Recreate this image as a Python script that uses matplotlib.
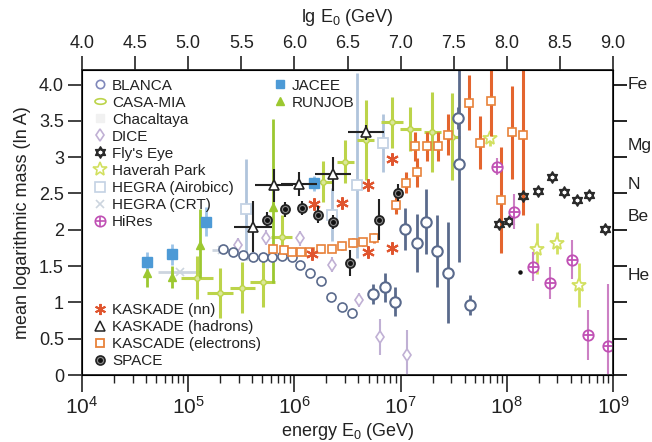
import numpy as np
import matplotlib
matplotlib.use('Agg')
import matplotlib.pyplot as plt
from matplotlib.lines import Line2D
from matplotlib.path import Path
from matplotlib.transforms import Affine2D
from matplotlib.ticker import NullFormatter, FixedLocator
from matplotlib.legend_handler import HandlerTuple

FONT = 'Liberation Sans'
plt.rcParams['font.family'] = [FONT, 'DejaVu Sans']
plt.rcParams['mathtext.fontset'] = 'custom'
plt.rcParams['mathtext.rm'] = FONT
plt.rcParams['mathtext.it'] = FONT + ':italic'
plt.rcParams['mathtext.bf'] = FONT + ':bold'

# ---------------- data (lg E in GeV, ln A) ----------------
blanca_lg = [5.33, 5.42, 5.52, 5.61, 5.70, 5.79, 5.88, 5.98, 6.05, 6.15, 6.25, 6.34, 6.45, 6.54]
blanca_lnA = [1.74, 1.69, 1.65, 1.62, 1.62, 1.63, 1.64, 1.63, 1.52, 1.41, 1.29, 1.08, 0.93, 0.86]

blanca2_lg = [6.74, 6.85, 6.95, 7.04, 7.15, 7.24, 7.34, 7.45, 7.65, 7.54, 7.55]
blanca2_lnA = [1.12, 1.21, 1.01, 2.01, 1.82, 2.11, 1.71, 1.41, 0.96, 3.54, 2.90]
blanca2_err = [0.14, 0.20, 0.20, 0.29, 0.40, 0.45, 0.50, 0.70, 0.14, 0.15, 1.35]

casa_lg = [5.08, 5.30, 5.51, 5.70, 5.88, 6.27, 6.48, 6.67, 6.92, 7.09, 7.30, 7.48]
casa_lnA = [1.34, 1.13, 1.20, 1.28, 1.90, 2.66, 2.94, 3.24, 3.48, 3.39, 3.35, 3.28]
casa_err = [0.30, 0.35, 0.35, 0.35, 0.30, 0.28, 0.30, 0.55, 0.35, 0.30, 0.55, 0.60]
casa_xerr = [0.15, 0.12, 0.12, 0.12, 0.10, 0.08, 0.08, 0.08, 0.10, 0.10, 0.08, 0.08]

dice_lg = [5.47, 5.73, 6.05, 6.35, 6.61, 6.81, 7.06]
dice_lnA = [1.79, 1.89, 1.88, 1.52, 1.03, 0.52, 0.28]
dice_err_lo = [0.10, 0.10, 0.10, 0.10, 0.10, 0.25, 0.28]
dice_err_hi = [0.10, 0.10, 0.10, 0.10, 0.10, 0.25, 0.34]

flys_lg = [7.93, 8.02, 8.15, 8.29, 8.43, 8.54, 8.66, 8.77, 8.92]
flys_lnA = [2.08, 2.12, 2.46, 2.54, 2.72, 2.52, 2.41, 2.48, 2.01]

haverah_lg = [7.84, 8.28, 8.47, 8.68]
haverah_lnA = [3.26, 1.74, 1.82, 1.24]
haverah_err = [0.10, 0.35, 0.15, 0.30]

hegra_air_lg = [5.54, 6.35, 6.59, 6.83]
hegra_air_lnA = [2.28, 2.21, 2.61, 3.20]
hegra_air_lo = [0.70, 0.37, 1.00, 0.40]
hegra_air_hi = [0.70, 0.37, 1.55, 0.40]

hegra_crt_lg = [4.92, 5.32]
hegra_crt_lnA = [1.42, 1.72]
hegra_crt_xerr = [0.20, 0.10]

hires_lg = [7.91, 8.07, 8.25, 8.41, 8.61, 8.76, 8.95]
hires_lnA = [2.87, 2.25, 1.49, 1.27, 1.59, 0.55, 0.40]
hires_lo = [0.12, 0.24, 0.20, 0.22, 0.27, 0.35, 0.40]
hires_hi = [0.12, 0.24, 0.20, 0.22, 0.27, 0.35, 0.85]

jacee_lg = [4.61, 4.85, 5.17, 6.18]
jacee_lnA = [1.55, 1.66, 2.11, 2.64]
jacee_err = [0.15, 0.15, 0.20, 0.10]

runjob_lg = [4.61, 4.85, 5.11, 5.80]
runjob_lnA = [1.41, 1.35, 1.79, 2.32]
runjob_lo = [0.20, 0.15, 0.45, 1.05]
runjob_hi = [0.20, 0.15, 0.50, 1.20]

knn_lg = [6.18, 6.45, 6.69, 6.92, 6.17, 6.69, 6.92]
knn_lnA = [2.36, 2.37, 2.62, 2.97, 1.66, 1.70, 1.75]

khad_lg = [5.61, 5.81, 6.04, 6.36, 6.67]
khad_lnA = [2.04, 2.61, 2.63, 2.77, 3.34]
khad_err = [0.35, 0.23, 0.17, 0.23, 0.10]
khad_xerr = [0.18, 0.18, 0.17, 0.17, 0.17]

kel_lg = [5.80, 5.90, 5.98, 6.06, 6.15, 6.25, 6.35, 6.45, 6.55, 6.65, 6.75,
          6.96, 7.05, 7.15, 7.14, 7.25, 7.35, 7.45, 7.64, 7.75, 7.85, 7.95, 8.05, 8.15]
kel_lnA = [1.73, 1.72, 1.70, 1.70, 1.70, 1.73, 1.74, 1.77, 1.82, 1.83, 1.89,
           2.34, 2.65, 2.79, 3.15, 3.15, 3.15, 3.31, 3.75, 3.20, 3.77, 2.41, 3.34, 3.31]
kel_err = [0.05, 0.05, 0.05, 0.05, 0.05, 0.05, 0.05, 0.05, 0.06, 0.06, 0.07,
           0.12, 0.15, 0.20, 0.20, 0.20, 0.20, 0.28, 0.38, 0.37, 0.48, 0.73, 0.64, 1.10]

space_lg = [5.74, 5.91, 6.07, 6.22, 6.36, 6.52, 6.80, 6.98]
space_lnA = [2.14, 2.28, 2.30, 2.21, 2.11, 1.54, 2.14, 2.51]
space_err = [0.10, 0.10, 0.10, 0.12, 0.10, 0.18, 0.28, 0.12]

dot_lg = [8.12]
dot_lnA = [1.42]

elements = ['H', 'He', 'Be', 'N', 'Mg', 'Fe']
element_A = [1, 4, 9, 14, 24, 56]

top_ticks = [4.0, 4.5, 5.0, 5.5, 6.0, 6.5, 7.0, 7.5, 8.0, 8.5, 9.0]
left_ticks = [0, 0.5, 1, 1.5, 2, 2.5, 3, 3.5, 4.0]
left_labels = ['0', '0.5', '1', '1.5', '2', '2.5', '3', '3.5', '4.0']

# ---------------- colours ----------------
C_BLANCA = '#8088bb'
C_BLANCA2 = '#5a6a8c'
C_CASA = '#bcd44a'
C_DICE = '#c0b0d4'
C_FLY = '#2a2a2a'
C_HAV = '#d2e060'
C_HEGRA = '#c4d2e4'
C_CRT = '#cdd5df'
C_HIRES = '#c050b4'
C_JACEE = '#4d9ad6'
C_RUNJOB = '#9cc830'
C_KNN = '#e0552e'
C_KHAD = '#222222'
C_KEL = '#e8823a'
C_KEL_BAR = '#e4652e'
C_SPACE = '#222222'


def E(lg):
    return 10.0 ** np.asarray(lg, dtype=float)


def xerr_of(lg, dlg):
    lg = np.asarray(lg, dtype=float)
    d = np.asarray(dlg, dtype=float)
    return [10 ** lg - 10 ** (lg - d), 10 ** (lg + d) - 10 ** lg]


ellipse = Path.unit_circle().transformed(Affine2D().scale(1.6, 0.8))

# hexagram (two overlapping triangles) for Fly's Eye
_ang_up = np.deg2rad([90, 210, 330, 90])
_ang_dn = np.deg2rad([270, 30, 150, 270])
_verts = np.concatenate([np.c_[np.cos(_ang_up), np.sin(_ang_up)],
                         np.c_[np.cos(_ang_dn), np.sin(_ang_dn)]])
_codes = [Path.MOVETO, Path.LINETO, Path.LINETO, Path.CLOSEPOLY] * 2
hexagram = Path(_verts, _codes)

fig = plt.figure(figsize=(6.52, 4.42), dpi=100)
ax = fig.add_axes([82 / 652, 1 - 375 / 442, 531 / 652, 305 / 442])
ax.set_xscale('log')
ax.set_xlim(1e4, 1e9)
ax.set_ylim(0, 4.2)

# light series first
ax.errorbar(E(hegra_crt_lg), hegra_crt_lnA, xerr=xerr_of(hegra_crt_lg, hegra_crt_xerr),
            fmt='x', color=C_CRT, ms=6, mew=1.2, elinewidth=2, capsize=0, zorder=2)
ax.errorbar(E(hegra_air_lg), hegra_air_lnA, yerr=[hegra_air_lo, hegra_air_hi],
            fmt='s', mfc='white', mec=C_HEGRA, ecolor='#b0c4dc', ms=7, mew=1.3,
            elinewidth=2, capsize=0, zorder=2)
ax.errorbar(E(casa_lg), casa_lnA, yerr=casa_err, xerr=xerr_of(casa_lg, casa_xerr),
            fmt='o', mfc='#dbe89a', mec=C_CASA, ecolor=C_CASA, ms=4, mew=1,
            elinewidth=2.2, capsize=0, zorder=2)
ax.errorbar(E(runjob_lg), runjob_lnA, yerr=[runjob_lo, runjob_hi],
            fmt='^', color=C_RUNJOB, ecolor=C_RUNJOB, ms=6, elinewidth=2, capsize=0, zorder=3)
ax.errorbar(E(dice_lg), dice_lnA, yerr=[dice_err_lo, dice_err_hi],
            fmt='d', mfc='white', mec=C_DICE, ecolor=C_DICE, ms=6, mew=1.2,
            elinewidth=1.5, capsize=0, zorder=3)
ax.errorbar(E(haverah_lg), haverah_lnA, yerr=haverah_err,
            fmt='*', mfc='white', mec=C_HAV, ecolor=C_HAV, ms=10, mew=1.3,
            elinewidth=2, capsize=0, zorder=3)
ax.errorbar(E(jacee_lg), jacee_lnA, yerr=jacee_err,
            fmt='s', color=C_JACEE, ecolor='#9cc4e8', ms=6.5, elinewidth=2, capsize=0, zorder=3)

# blanca
ax.plot(E(blanca_lg), blanca_lnA, 'o', mfc='white', mec=C_BLANCA2, ms=6.5, mew=1.2, zorder=4)
ax.errorbar(E(blanca2_lg), blanca2_lnA, yerr=blanca2_err,
            fmt='o', mfc='white', mec=C_BLANCA2, ecolor=C_BLANCA2, ms=7.5, mew=1.5,
            elinewidth=2, capsize=0, zorder=4)

# KASCADE electrons
ax.errorbar(E(kel_lg), kel_lnA, yerr=kel_err,
            fmt='s', mfc='white', mec=C_KEL, ecolor=C_KEL_BAR, ms=6, mew=1.2,
            elinewidth=2.2, capsize=0, zorder=5)
# KASKADE nn
ax.plot(E(knn_lg), knn_lnA, ls='none', marker=(6, 2, 0), color=C_KNN, ms=9, mew=1.5, zorder=6)
# KASKADE hadrons
ax.errorbar(E(khad_lg), khad_lnA, yerr=khad_err, xerr=xerr_of(khad_lg, khad_xerr),
            fmt='^', mfc='white', mec=C_KHAD, ecolor=C_KHAD, ms=7, mew=1.2,
            elinewidth=1.5, capsize=0, zorder=6)
# SPACE
ax.errorbar(E(space_lg), space_lnA, yerr=space_err,
            fmt='o', mfc='#8a8a8a', mec=C_SPACE, ecolor=C_SPACE, ms=6.5, mew=1.3,
            elinewidth=1.5, capsize=0, zorder=7)
ax.plot(E(space_lg), space_lnA, 'o', color='#111111', ms=2.5, zorder=8)

# Fly's Eye (hexagram)
ax.plot(E(flys_lg), flys_lnA, ls='none', marker=hexagram, mfc='none', mec=C_FLY, ms=8, mew=1.2, zorder=7)
ax.plot(E(dot_lg), dot_lnA, 'o', color='#111111', ms=2.2, zorder=7)

# HiRes
ax.errorbar(E(hires_lg), hires_lnA, yerr=[hires_lo, hires_hi],
            fmt='o', mfc='white', mec=C_HIRES, ecolor='#cc80c4', ms=7.5, mew=1.3,
            elinewidth=1.5, capsize=0, zorder=7)
ax.plot(E(hires_lg), hires_lnA, '+', color=C_HIRES, ms=7.5, mew=1.3, zorder=8)

# ---------------- axes styling ----------------
for s in ax.spines.values():
    s.set_linewidth(1.3)
    s.set_color('#333333')
ax.set_yticks(left_ticks)
ax.set_yticklabels(left_labels)
ax.tick_params(axis='y', direction='out', length=10, width=1.2, labelsize=13, pad=3, colors='#222222')
ax.tick_params(axis='x', which='major', direction='out', length=12, width=1.2, labelsize=15, pad=3, colors='#222222')
ax.tick_params(axis='x', which='minor', direction='out', length=6, width=1.0, colors='#222222')
ax.set_xlabel('energy E$_0$ (GeV)', fontsize=13, labelpad=2, color='#222222')
ax.set_ylabel('mean logarithmic mass (ln A)', fontsize=13, labelpad=6, color='#222222')

ax2 = ax.twinx()
ax2.set_ylim(0, 4.2)
ax2.set_yticks(left_ticks)
ax2.yaxis.set_major_formatter(NullFormatter())
ax2.yaxis.set_minor_locator(FixedLocator(np.log(element_A)))
ax2.set_yticklabels(elements, minor=True)
ax2.tick_params(axis='y', which='major', direction='out', length=10, width=1.2)
ax2.tick_params(axis='y', which='minor', length=0, pad=10.5, labelsize=12.5, colors='#222222')
for s in ax2.spines.values():
    s.set_linewidth(1.3)
    s.set_color('#333333')

ax3 = ax.twiny()
ax3.set_xlim(4, 9)
ax3.set_xticks(top_ticks)
ax3.set_xticklabels([f'{v:.1f}' for v in top_ticks])
ax3.tick_params(axis='x', direction='out', length=10, width=1.2, labelsize=13, pad=3, colors='#222222')
ax3.set_xlabel('lg E$_0$ (GeV)', fontsize=13, labelpad=9, color='#222222')

# ---------------- legends ----------------
def h(**kw):
    d = dict(ls='none')
    d.update(kw)
    return Line2D([], [], **d)

hand1 = [
    h(marker='o', mfc='white', mec=C_BLANCA, ms=6, mew=1.2),
    h(marker=ellipse, mfc='white', mec=C_CASA, ms=8, mew=1.2),
    h(marker='s', mfc='#f1f1f1', mec='#f1f1f1', ms=6),
    h(marker='d', mfc='white', mec=C_DICE, ms=6, mew=1.2),
    h(marker=hexagram, mfc='none', mec=C_FLY, ms=8, mew=1.2),
    h(marker='*', mfc='white', mec=C_HAV, ms=10, mew=1.2),
    h(marker='s', mfc='white', mec=C_HEGRA, ms=7, mew=1.2),
    h(marker='x', color=C_CRT, ms=6, mew=1.2),
    (h(marker='o', mfc='white', mec=C_HIRES, ms=7.5, mew=1.2), h(marker='+', color=C_HIRES, ms=7.5, mew=1.2)),
]
lab1 = ['BLANCA', 'CASA-MIA', 'Chacaltaya', 'DICE', "Fly's Eye", 'Haverah Park',
        'HEGRA (Airobicc)', 'HEGRA (CRT)', 'HiRes']
hand2 = [h(marker='s', color=C_JACEE, ms=6), h(marker='^', color=C_RUNJOB, ms=6)]
lab2 = ['JACEE', 'RUNJOB']
hand3 = [
    h(marker=(6, 2, 0), color=C_KNN, ms=8, mew=1.4),
    h(marker='^', mfc='white', mec=C_KHAD, ms=7, mew=1.1),
    h(marker='s', mfc='white', mec=C_KEL, ms=6, mew=1.3),
    (h(marker='o', mfc='#8a8a8a', mec=C_SPACE, ms=6.5, mew=1.2), h(marker='o', color='#111111', ms=2.5)),
]
lab3 = ['KASKADE (nn)', 'KASKADE (hadrons)', 'KASCADE (electrons)', 'SPACE']

common = dict(frameon=False, fontsize=11, handlelength=1.0, handletextpad=0.3,
              borderpad=0, borderaxespad=0, labelspacing=0.2,
              handler_map={tuple: HandlerTuple(ndivide=1, pad=0)})
leg1 = ax.legend(hand1, lab1, loc='upper left', bbox_to_anchor=(0.019, 0.972), **common)
ax.add_artist(leg1)
leg2 = ax.legend(hand2, lab2, loc='upper left', bbox_to_anchor=(0.358, 0.972), **common)
ax.add_artist(leg2)
leg3 = ax.legend(hand3, lab3, loc='upper left', bbox_to_anchor=(0.019, 0.236), **common)
for lg in (leg1, leg2, leg3):
    for t in lg.get_texts():
        t.set_color('#222222')

fig.savefig('out.png', dpi=100)
